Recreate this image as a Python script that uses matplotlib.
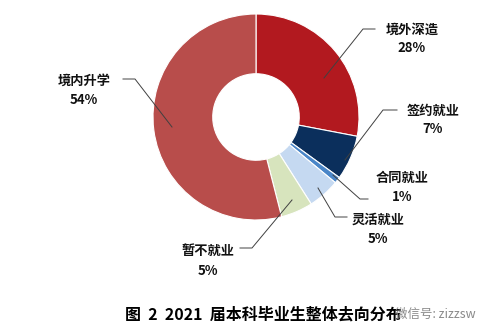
import matplotlib
matplotlib.use("Agg")
import matplotlib.pyplot as plt

plt.rcParams['font.family'] = ['Noto Sans CJK SC', 'DejaVu Sans']

categories = ["境外深造", "签约就业", "合同就业", "灵活就业", "暂不就业", "境内升学"]
shares = [28, 7, 1, 5, 5, 54]
colors = ["#B2191F", "#0B2F5C", "#4A86C8", "#C5D9F1", "#D7E4BD", "#B84D4B"]
title = "图  2  2021  届本科毕业生整体去向分布"
watermark = "微信号: zizzsw"

W, H = 489, 336
fig = plt.figure(figsize=(W / 100, H / 100), dpi=100)
ax = fig.add_axes([0, 0, 1, 1])


def P(x, y):
    # pixel position (origin top-left) -> data coords
    return x, H - y


cx, cy = P(256, 117)
R = 103
ax.pie(shares, colors=colors, startangle=90, counterclock=False,
       center=(cx, cy), radius=R,
       wedgeprops=dict(width=R * 0.58, edgecolor="white", linewidth=0.8))

# label text centres and leader line paths (pixels)
label_pos = [(412, 30, 48), (433, 111, 129), (402, 178, 197),
             (378, 220, 239), (208, 251, 271), (84, 81, 100)]
leaders = [
    [(324, 78), (363, 29), (375, 29)],
    [(345, 160), (383, 110), (397, 110)],
    [(333, 175), (360, 199), (368, 199)],
    [(318, 188), (335, 217), (347, 217)],
    [(292, 200), (252, 248), (240, 248)],
    [(172, 127), (135, 79), (123, 79)],
]

for name, val, (lx, ly1, ly2), path in zip(categories, shares, label_pos, leaders):
    pts = [P(*p) for p in path]
    ax.plot([p[0] for p in pts], [p[1] for p in pts], color="#404040", lw=0.7)
    ax.text(*P(lx, ly1), name, ha="center", va="center", fontsize=9.5,
            fontweight="bold", color="#111111")
    ax.text(*P(lx, ly2), f"{val}%", ha="center", va="center", fontsize=9.5,
            fontweight="bold", color="#111111")

ax.text(*P(125, 314), title, ha="left", va="center", fontsize=11.5,
        fontweight="bold", color="#000000")
ax.text(*P(395, 314), watermark, ha="left", va="center", fontsize=9,
        color="#8a8a8a")

ax.set_xlim(0, W)
ax.set_ylim(0, H)
ax.set_aspect("equal")
ax.axis("off")

fig.savefig("out.png", dpi=100, facecolor="white")
